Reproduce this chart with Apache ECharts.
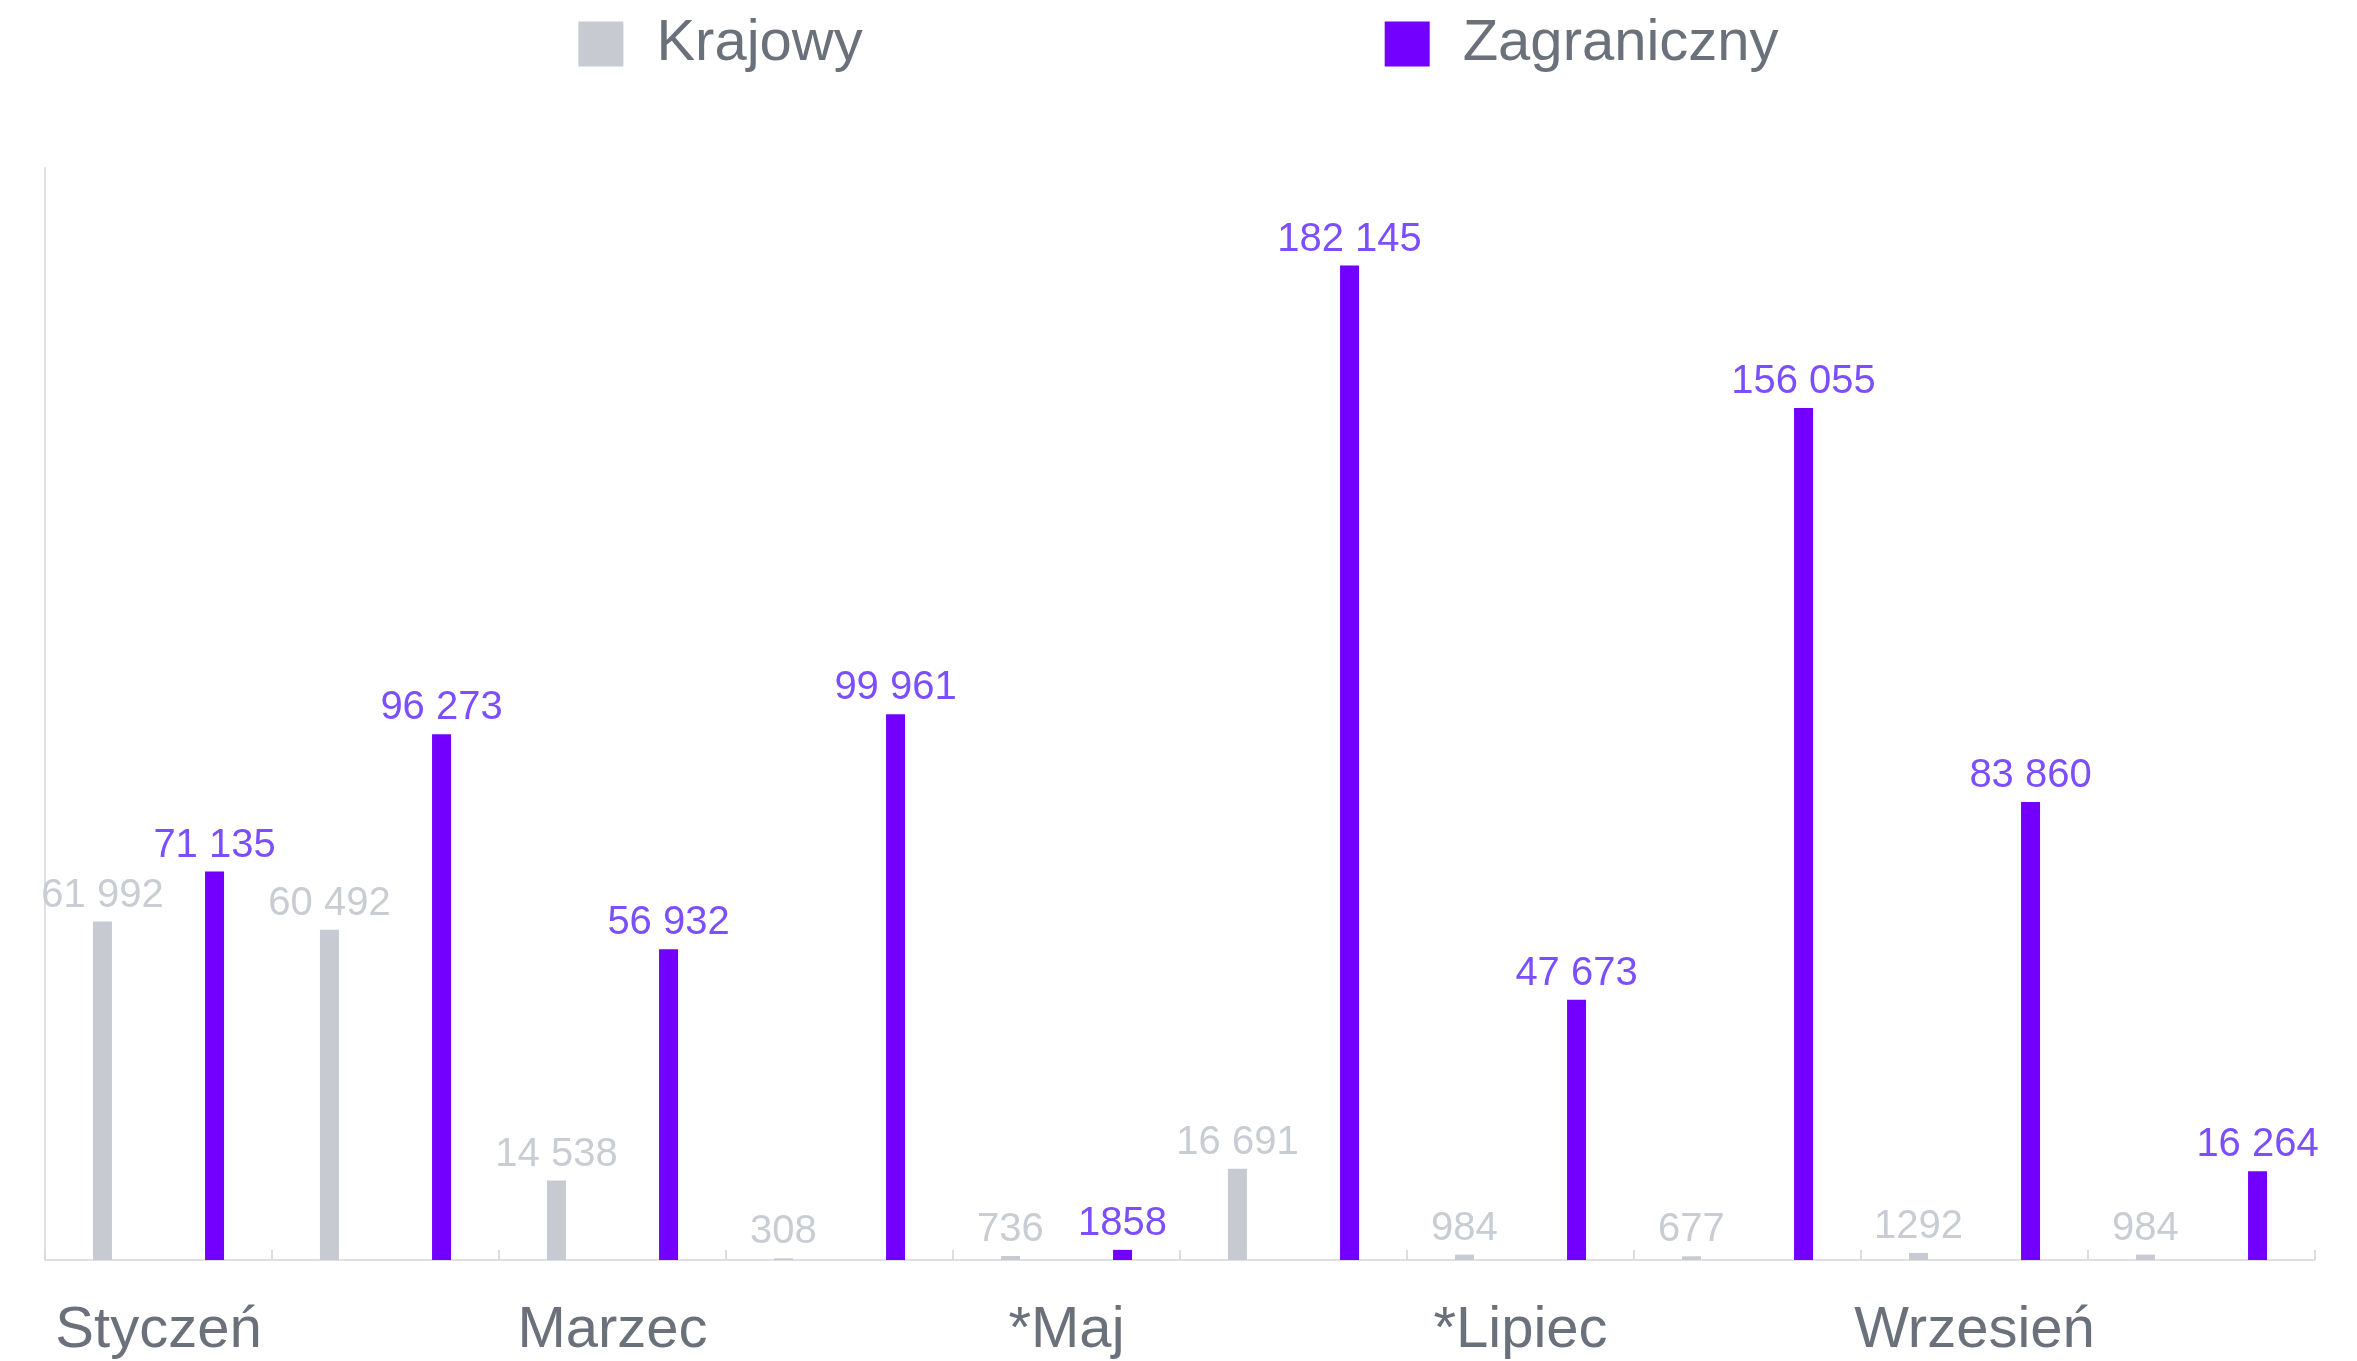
<!DOCTYPE html>
<html>
<head>
<meta charset="utf-8">
<script src="https://cdn.jsdelivr.net/npm/echarts@6/dist/echarts.min.js"></script>
<style>
  html, body { margin: 0; padding: 0; background: #fff; }
  #chart_example { width: 2357px; height: 1361px; }
</style>
</head>
<body>
<div id="chart_example"></div>
<script>
// miesiace
var months = ['Styczeń', 'Luty', 'Marzec', 'Kwiecień', '*Maj', 'Czerwiec', '*Lipiec', 'Sierpień', 'Wrzesień', 'Październik'];
var krajowy = [61992, 60492, 14538, 308, 736, 16691, 984, 677, 1292, 984];
var zagraniczny = [71135, 96273, 56932, 99961, 1858, 182145, 47673, 156055, 83860, 16264];
var seriesNames = ['Krajowy', 'Zagraniczny'];

// 61992 -> "61 992", 1858 zostaje bez spacji
function fmt(p) {
  var v = p.value;
  if (v < 10000) return String(v);
  return String(v).replace(/\B(?=(\d{3})+(?!\d))/g, ' ');
}

var font = 'Liberation Sans, Arial, Helvetica, sans-serif';

var option1 = {
  backgroundColor: '#fff',
  animation: false,
  legend: {
    top: 10,
    left: 'center',
    itemWidth: 45,
    itemHeight: 45,
    itemGap: 522,
    icon: 'rect',
    textStyle: { color: '#6b717b', fontSize: 58, fontFamily: font, padding: [8, 0, 0, 28] },
    data: seriesNames
  },
  grid: { left: 45, right: 42, top: 168, bottom: 101 },
  xAxis: {
    type: 'category',
    data: months,
    axisLine: { lineStyle: { color: '#e0e0e4', width: 2 } },
    axisTick: { show: true, interval: 0, inside: true, length: 10, lineStyle: { color: '#dcdce0', width: 2 } },
    axisLabel: { interval: 1, color: '#6b717b', fontSize: 58, fontFamily: font, margin: 42 }
  },
  yAxis: {
    type: 'value',
    min: 0,
    max: 200000,
    axisLine: { show: true, lineStyle: { color: '#e0e0e4', width: 2 } },
    axisTick: { show: false },
    axisLabel: { show: false },
    splitLine: { show: false }
  },
  series: [
    {
      name: seriesNames[0],
      type: 'bar',
      barWidth: 19,
      barGap: '490%',
      itemStyle: { color: '#c7cad1' },
      label: { show: true, position: 'top', distance: 6, color: '#c8ccd3', fontSize: 40, fontFamily: font, formatter: fmt },
      data: krajowy
    },
    {
      name: seriesNames[1],
      type: 'bar',
      barWidth: 19,
      barGap: '490%',
      itemStyle: { color: '#7300ff' },
      label: { show: true, position: 'top', distance: 6, color: '#7b4fff', fontSize: 40, fontFamily: font, formatter: fmt },
      data: zagraniczny
    }
  ]
};

var myChart = echarts.init(document.getElementById('chart_example'));
myChart.setOption(option1);
window.addEventListener('resize', function () { myChart.resize(); });
</script>
</body>
</html>
